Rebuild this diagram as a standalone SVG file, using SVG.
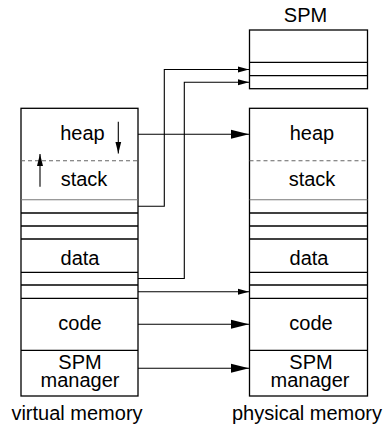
<svg xmlns="http://www.w3.org/2000/svg" width="387" height="428" viewBox="0 0 387 428">
<defs>
<marker id="big" markerWidth="18" markerHeight="10" refX="18" refY="5" orient="auto" markerUnits="userSpaceOnUse"><path d="M0,0.5 L18,5 L0,9.5 Z" fill="#000"/></marker>
<marker id="small" markerWidth="11" markerHeight="7" refX="11" refY="3.5" orient="auto" markerUnits="userSpaceOnUse"><path d="M0,0.5 L11,3.5 L0,6.5 Z" fill="#000"/></marker>
<marker id="tip" markerWidth="12" markerHeight="8" refX="12" refY="4" orient="auto" markerUnits="userSpaceOnUse"><path d="M0,1 L12,4 L0,7 Z" fill="#000"/></marker>
</defs>
<style>
text{font-family:"Liberation Sans",Arial,sans-serif;font-size:20px;fill:#000;text-anchor:middle}
.box{fill:#fff;stroke:#000;stroke-width:1.3}
.ln{stroke:#000;stroke-width:1.3;fill:none}
.gl{stroke:#777;stroke-width:1.1;fill:none}
.dash{stroke:#666;stroke-width:1.1;stroke-dasharray:4 3;fill:none}
.c{stroke:#000;stroke-width:1.1;fill:none}
</style>
<g id="spm">
<text x="305.5" y="22">SPM</text>
<rect class="box" x="249.5" y="30" width="118" height="58.7"/>
<line class="ln" x1="249.5" y1="62.3" x2="367.5" y2="62.3"/>
<line class="ln" x1="249.5" y1="75.7" x2="367.5" y2="75.7"/>
</g>
<g id="virtual">
<rect class="box" x="21" y="108.3" width="117" height="287.7"/>
<line class="dash" x1="21" y1="160.7" x2="138" y2="160.7"/>
<line class="gl" x1="21" y1="199.7" x2="138" y2="199.7"/>
<line class="ln" x1="21" y1="213" x2="138" y2="213"/>
<line class="ln" x1="21" y1="226" x2="138" y2="226"/>
<line class="ln" x1="21" y1="239" x2="138" y2="239"/>
<line class="ln" x1="21" y1="272.3" x2="138" y2="272.3"/>
<line class="ln" x1="21" y1="285" x2="138" y2="285"/>
<line class="ln" x1="21" y1="298.3" x2="138" y2="298.3"/>
<line class="ln" x1="21" y1="350.3" x2="138" y2="350.3"/>
<line class="c" x1="118.3" y1="121.7" x2="118.3" y2="153.5" marker-end="url(#tip)"/>
<line class="c" x1="40" y1="186.7" x2="40" y2="154" marker-end="url(#tip)"/>
<text x="82.5" y="140">heap</text>
<text x="84" y="186">stack</text>
<text x="80" y="265">data</text>
<text x="80" y="330">code</text>
<text x="80" y="369">SPM</text>
<text x="80" y="387">manager</text>
<text x="77" y="420">virtual memory</text>
</g>
<g id="physical">
<rect class="box" x="249.5" y="108.3" width="118" height="287.7"/>
<line class="dash" x1="249.5" y1="160.7" x2="367.5" y2="160.7"/>
<line class="gl" x1="249.5" y1="199.7" x2="367.5" y2="199.7"/>
<line class="ln" x1="249.5" y1="213" x2="367.5" y2="213"/>
<line class="ln" x1="249.5" y1="226" x2="367.5" y2="226"/>
<line class="ln" x1="249.5" y1="239" x2="367.5" y2="239"/>
<line class="ln" x1="249.5" y1="272.3" x2="367.5" y2="272.3"/>
<line class="ln" x1="249.5" y1="285" x2="367.5" y2="285"/>
<line class="ln" x1="249.5" y1="298.3" x2="367.5" y2="298.3"/>
<line class="ln" x1="249.5" y1="350.3" x2="367.5" y2="350.3"/>
<text x="312" y="140">heap</text>
<text x="312" y="186">stack</text>
<text x="309" y="265">data</text>
<text x="311" y="330">code</text>
<text x="311" y="369">SPM</text>
<text x="310" y="387">manager</text>
<text x="307" y="420">physical memory</text>
</g>
<g id="connectors">
<line class="c" x1="138" y1="134.3" x2="249" y2="134.3" marker-end="url(#big)"/>
<polyline class="c" points="138,206.3 164.3,206.3 164.3,69.5 249,69.5" marker-end="url(#small)"/>
<polyline class="c" points="138,278.5 184.3,278.5 184.3,82.2 249,82.2" marker-end="url(#small)"/>
<line class="c" x1="138" y1="291.7" x2="249" y2="291.7" marker-end="url(#small)"/>
<line class="c" x1="138" y1="324.3" x2="249" y2="324.3" marker-end="url(#big)"/>
<line class="c" x1="138" y1="368.3" x2="249" y2="368.3" marker-end="url(#big)"/>
</g>
</svg>
